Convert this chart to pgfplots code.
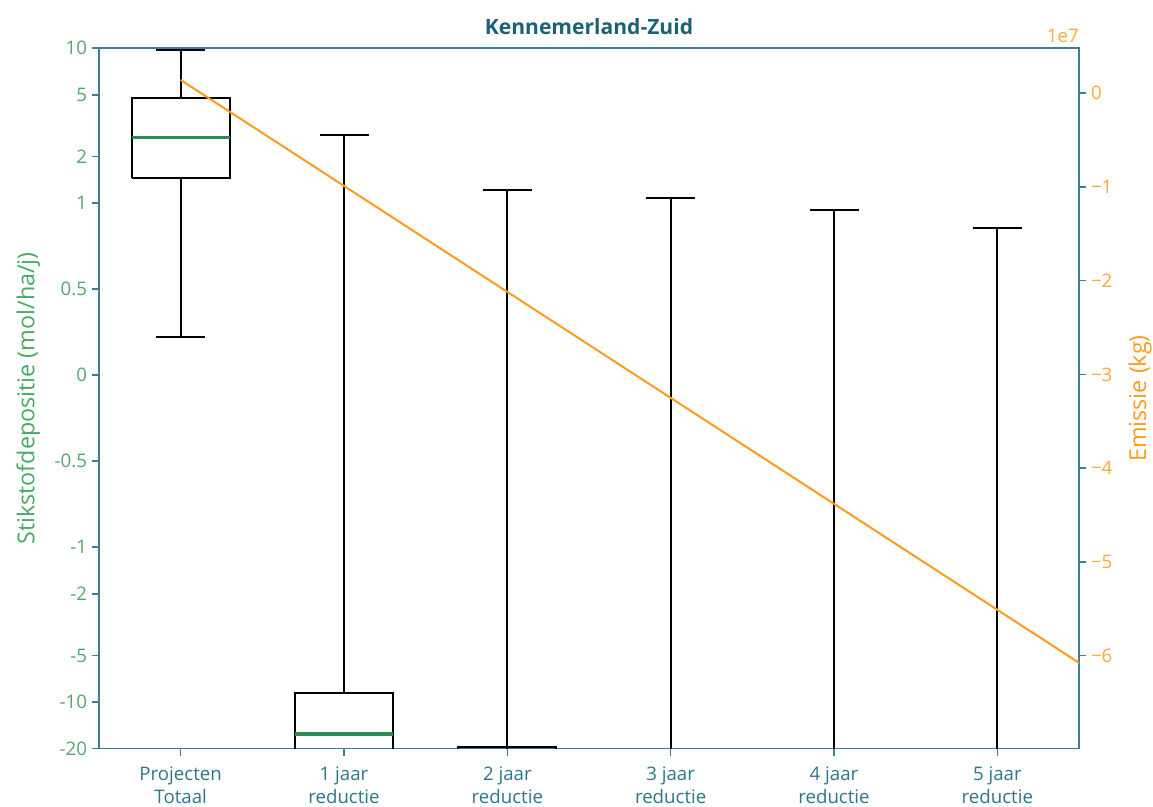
\documentclass[border=0pt]{standalone}
\usepackage{fontspec}
\setmainfont{Open Sans}
\usepackage{pgfplots}
\pgfplotsset{compat=1.18}
\definecolor{spine}{RGB}{62,125,148}
\definecolor{titlec}{RGB}{28,98,118}
\definecolor{xtl}{RGB}{45,118,138}
\definecolor{ytl}{RGB}{85,165,115}
\definecolor{ylab}{RGB}{70,170,100}
\definecolor{med}{RGB}{46,139,87}
\definecolor{orng}{RGB}{255,155,30}
\definecolor{otl}{RGB}{255,168,60}
\newcommand\tickfont{\fontsize{14}{17}\selectfont}
\begin{document}
\begin{tikzpicture}
\begin{axis}[
  scale only axis, width=735pt, height=525.3pt,
  xmin=-0.5, xmax=5.5, ymin=-20, ymax=10,
  y coord trafo/.code={\pgfmathparse{(#1>1)*(1.1111+log10(max(#1,1))) - (#1<-1)*(1.1111+log10(max(-(#1),1))) + (abs(#1)<=1)*1.1111*(#1)}},
  ytick={-20,-10,-5,-2,-1,-0.5,0,0.5,1,2,5,10},
  yticklabels={-20,-10,-5,-2,-1,-0.5,0,0.5,1,2,5,10},
  xtick={0,1,2,3,4,5},
  xticklabels={{Projecten\\Totaal},{1 jaar\\reductie},{2 jaar\\reductie},{3 jaar\\reductie},{4 jaar\\reductie},{5 jaar\\reductie}},
  xtick pos=bottom, ytick pos=left,
  tick align=outside, major tick length=5.5pt,
  axis line style={spine, line width=1.2pt},
  every tick/.style={spine, line width=1.2pt},
  yticklabel style={ytl, font=\tickfont},
  xticklabel style={xtl, font=\tickfont, align=center, yshift=-4.5pt},
  ylabel={Stikstofdepositie (mol/ha/j)},
  every axis y label/.style={at={(rel axis cs:0,0.5)}, rotate=90, anchor=center, yshift=53pt, ylab, font=\fontsize{17.5}{20}\selectfont},
  title={Kennemerland-Zuid},
  every axis title/.style={at={(rel axis cs:0.5,1)}, anchor=base, yshift=10pt, titlec, font=\bfseries\fontsize{15.8}{18}\selectfont},
  boxl/.style={black, line width=1.5pt, line join=miter},
  medl/.style={med, line width=2.4pt},
]
% Projecten Totaal
\addplot[boxl] coordinates {(-0.3,1.46) (0.3,1.46) (0.3,4.80) (-0.3,4.80) (-0.3,1.46)};
\addplot[boxl] coordinates {(0,4.80) (0,9.8)};
\addplot[boxl] coordinates {(-0.15,9.8) (0.15,9.8)};
\addplot[boxl] coordinates {(0,1.46) (0,0.222)};
\addplot[boxl] coordinates {(-0.15,0.222) (0.15,0.222)};
\addplot[medl] coordinates {(-0.3,2.65) (0.3,2.65)};
% 1 jaar
\addplot[boxl] coordinates {(0.7,-60) (0.7,-8.73) (1.3,-8.73) (1.3,-60)};
\addplot[boxl] coordinates {(1,-8.73) (1,2.75)};
\addplot[boxl] coordinates {(0.85,2.75) (1.15,2.75)};
\addplot[medl] coordinates {(0.7,-16.1) (1.3,-16.1)};
% 2 jaar
\addplot[boxl] coordinates {(1.7,-80) (1.7,-19.6) (2.3,-19.6) (2.3,-80)};
\addplot[boxl] coordinates {(2,-200) (2,1.22)};
\addplot[boxl] coordinates {(1.85,1.22) (2.15,1.22)};
% 3 jaar
\addplot[boxl] coordinates {(3,-200) (3,1.08)};
\addplot[boxl] coordinates {(2.85,1.08) (3.15,1.08)};
% 4 jaar
\addplot[boxl] coordinates {(4,-200) (4,0.96)};
\addplot[boxl] coordinates {(3.85,0.96) (4.15,0.96)};
% 5 jaar
\addplot[boxl] coordinates {(5,-200) (5,0.856)};
\addplot[boxl] coordinates {(4.85,0.856) (5.15,0.856)};
\coordinate (sw) at (rel axis cs:0,0);
\coordinate (ne) at (rel axis cs:1,1);
\end{axis}
\begin{axis}[
  scale only axis, width=735pt, height=525.3pt,
  xmin=-0.5, xmax=5.5, ymin=-6.995e7, ymax=0.48e7,
  axis x line=none, axis y line*=right,
  ytick={-6e7,-5e7,-4e7,-3e7,-2e7,-1e7,0},
  yticklabels={−6,−5,−4,−3,−2,−1,0},
  scaled y ticks=false,
  tick align=outside, major tick length=5.5pt,
  axis line style={spine, line width=1.2pt},
  every tick/.style={spine, line width=1.2pt},
  yticklabel style={otl, font=\tickfont},
  ylabel={Emissie (kg)},
  every axis y label/.style={at={(rel axis cs:1,0.5)}, rotate=90, anchor=center, yshift=-45.75pt, orng, font=\fontsize{17.5}{20}\selectfont},
]
\addplot[orng, line width=1.5pt] coordinates {(0,1.42e6) (1,-9.89e6) (2,-2.120e7) (3,-3.251e7) (4,-4.382e7) (5,-5.513e7) (6,-6.644e7)};
\end{axis}
\node[otl, font=\tickfont, anchor=base east, inner sep=0pt] at ([yshift=4.5pt]ne) {1e7};
\pgfresetboundingbox
\path[use as bounding box] ([xshift=-74.25pt,yshift=-43.7pt]sw) rectangle ([xshift=55.5pt,yshift=36.2pt]ne);
\end{tikzpicture}
\end{document}
